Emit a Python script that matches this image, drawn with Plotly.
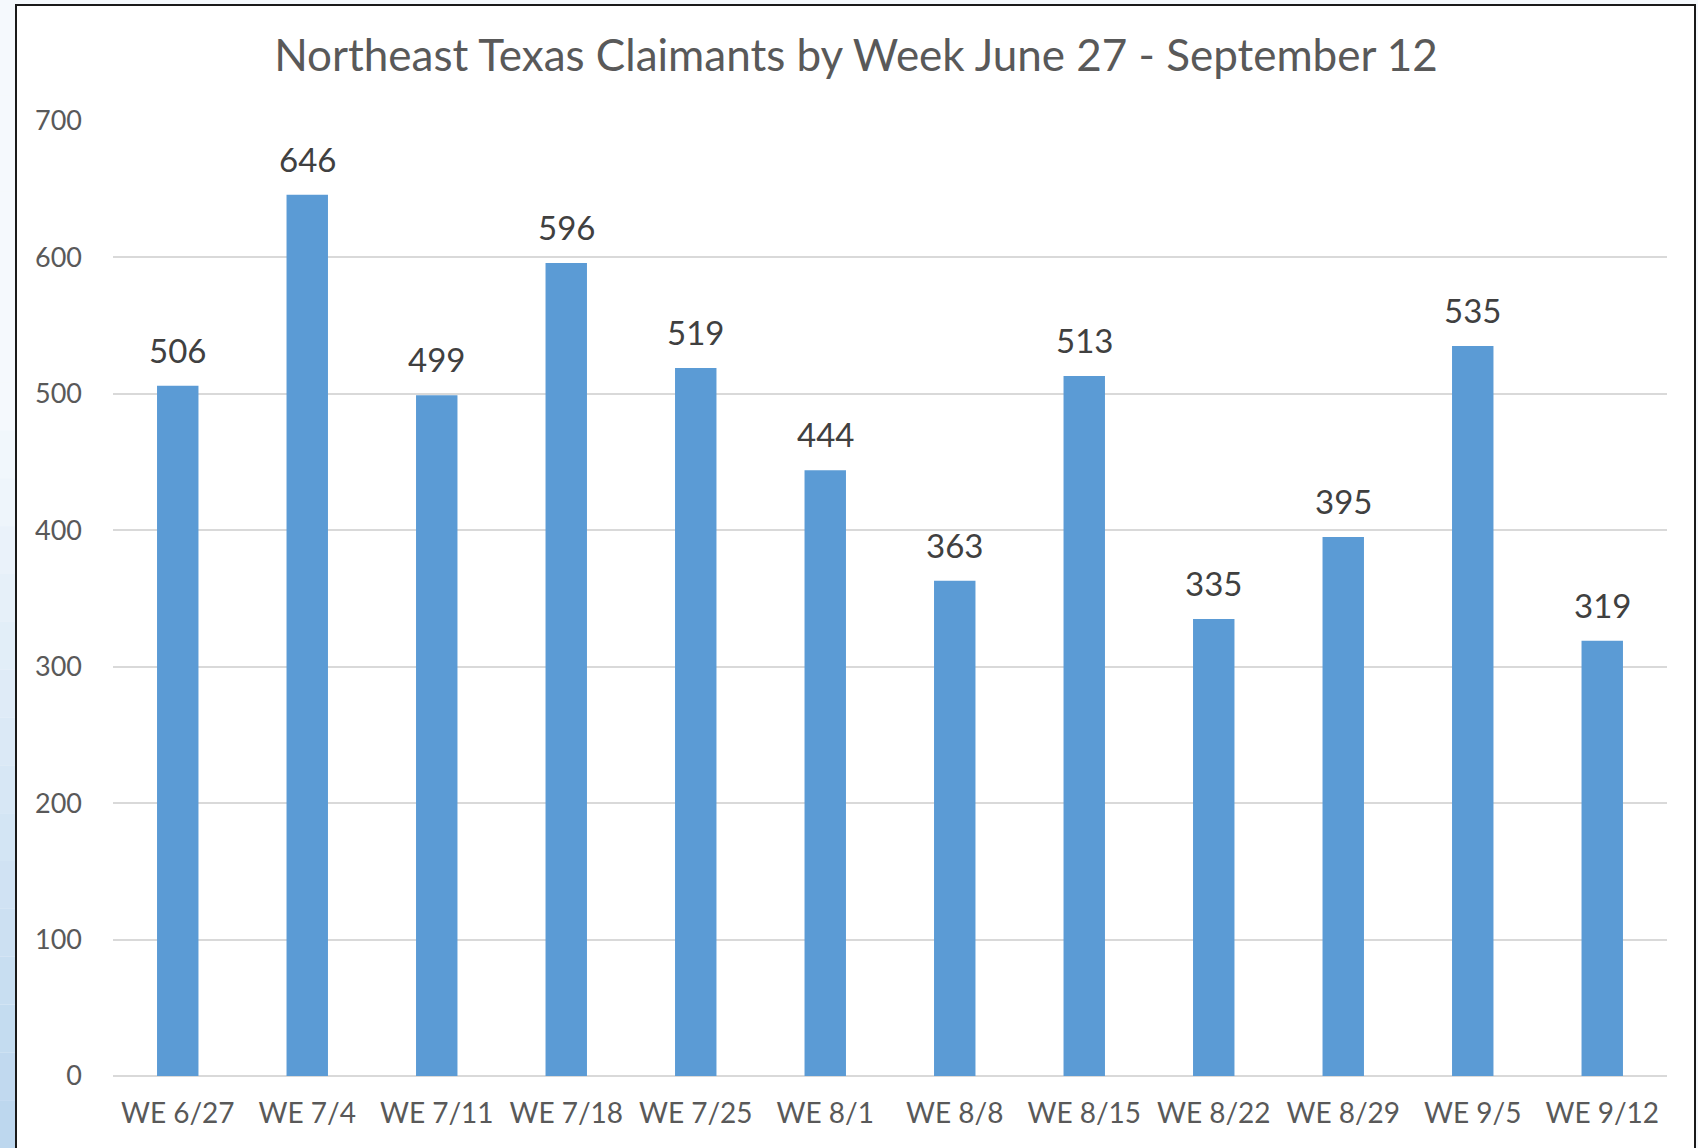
import plotly.graph_objects as go

weeks = ["WE 6/27", "WE 7/4", "WE 7/11", "WE 7/18", "WE 7/25", "WE 8/1",
         "WE 8/8", "WE 8/15", "WE 8/22", "WE 8/29", "WE 9/5", "WE 9/12"]
claimants = [506, 646, 499, 596, 519, 444, 363, 513, 335, 395, 535, 319]
y_ticks = [0, 100, 200, 300, 400, 500, 600, 700]

W, H = 1698, 1148
L, R, T, B = 113, 31, 121, 72
pw, ph = W - L - R, H - T - B

def px_to_paper_x(px):
    return (px - L) / pw

def px_to_paper_y(py):
    return (H - B - py) / ph

FONT = "Lato, Carlito, Calibri, sans-serif"
TXT = "#595959"

fig = go.Figure()
fig.add_trace(go.Bar(
    x=weeks, y=claimants,
    marker=dict(color="#5B9BD5", line=dict(width=0)),
    hoverinfo="x+y",
))

shapes = []
# gradient background strip on the left
n = 24
top_c = (245, 249, 253)
bot_c = (189, 215, 238)
for i in range(n):
    t = i / (n - 1)
    tt = max(0.0, (t - 0.35) / 0.65)
    c = tuple(int(round(top_c[k] + (bot_c[k] - top_c[k]) * tt)) for k in range(3))
    y0 = H * i / n
    y1 = H * (i + 1) / n
    shapes.append(dict(type="rect", xref="paper", yref="paper", layer="below",
                       x0=px_to_paper_x(0), x1=px_to_paper_x(17),
                       y0=px_to_paper_y(y1), y1=px_to_paper_y(y0),
                       fillcolor="rgb(%d,%d,%d)" % c, line=dict(width=0)))
# chart box
shapes.append(dict(type="rect", xref="paper", yref="paper", layer="below",
                   x0=px_to_paper_x(16), x1=px_to_paper_x(1695),
                   y0=px_to_paper_y(1160), y1=px_to_paper_y(5),
                   fillcolor="white", line=dict(color="#1a1a1a", width=2)))

annotations = []
for w, v in zip(weeks, claimants):
    annotations.append(dict(x=w, y=v, xref="x", yref="y", text=str(v),
                            showarrow=False, yanchor="bottom", yshift=14,
                            font=dict(family=FONT, size=33, color="#404040")))

fig.update_layout(
    width=W, height=H,
    margin=dict(l=L, r=R, t=T, b=B, pad=0),
    paper_bgcolor="#f5f9fd",
    plot_bgcolor="rgba(0,0,0,0)",
    showlegend=False,
    bargap=0.68,
    title=dict(text="Northeast Texas Claimants by Week June 27 - September 12",
               x=856 / W, xref="container", xanchor="center",
               y=1 - 56 / H, yref="container", yanchor="middle",
               font=dict(family=FONT, size=44, color=TXT)),
    xaxis=dict(showgrid=False, showline=False, zeroline=False, ticks="",
               tickfont=dict(family=FONT, size=28, color=TXT),
               ticklabelstandoff=18),
    yaxis=dict(range=[0, 700], tickvals=y_ticks, showgrid=True,
               gridcolor="#d9d9d9", gridwidth=1.5, zeroline=True,
               zerolinecolor="#d9d9d9", zerolinewidth=1.5,
               showline=False, ticks="",
               tickfont=dict(family=FONT, size=27, color=TXT),
               ticklabelstandoff=30),
    shapes=shapes,
    annotations=annotations,
)

fig.write_html("out.html",
               config={"displayModeBar": False},
               post_script="document.body.style.margin='0';document.body.style.overflow='hidden';")
